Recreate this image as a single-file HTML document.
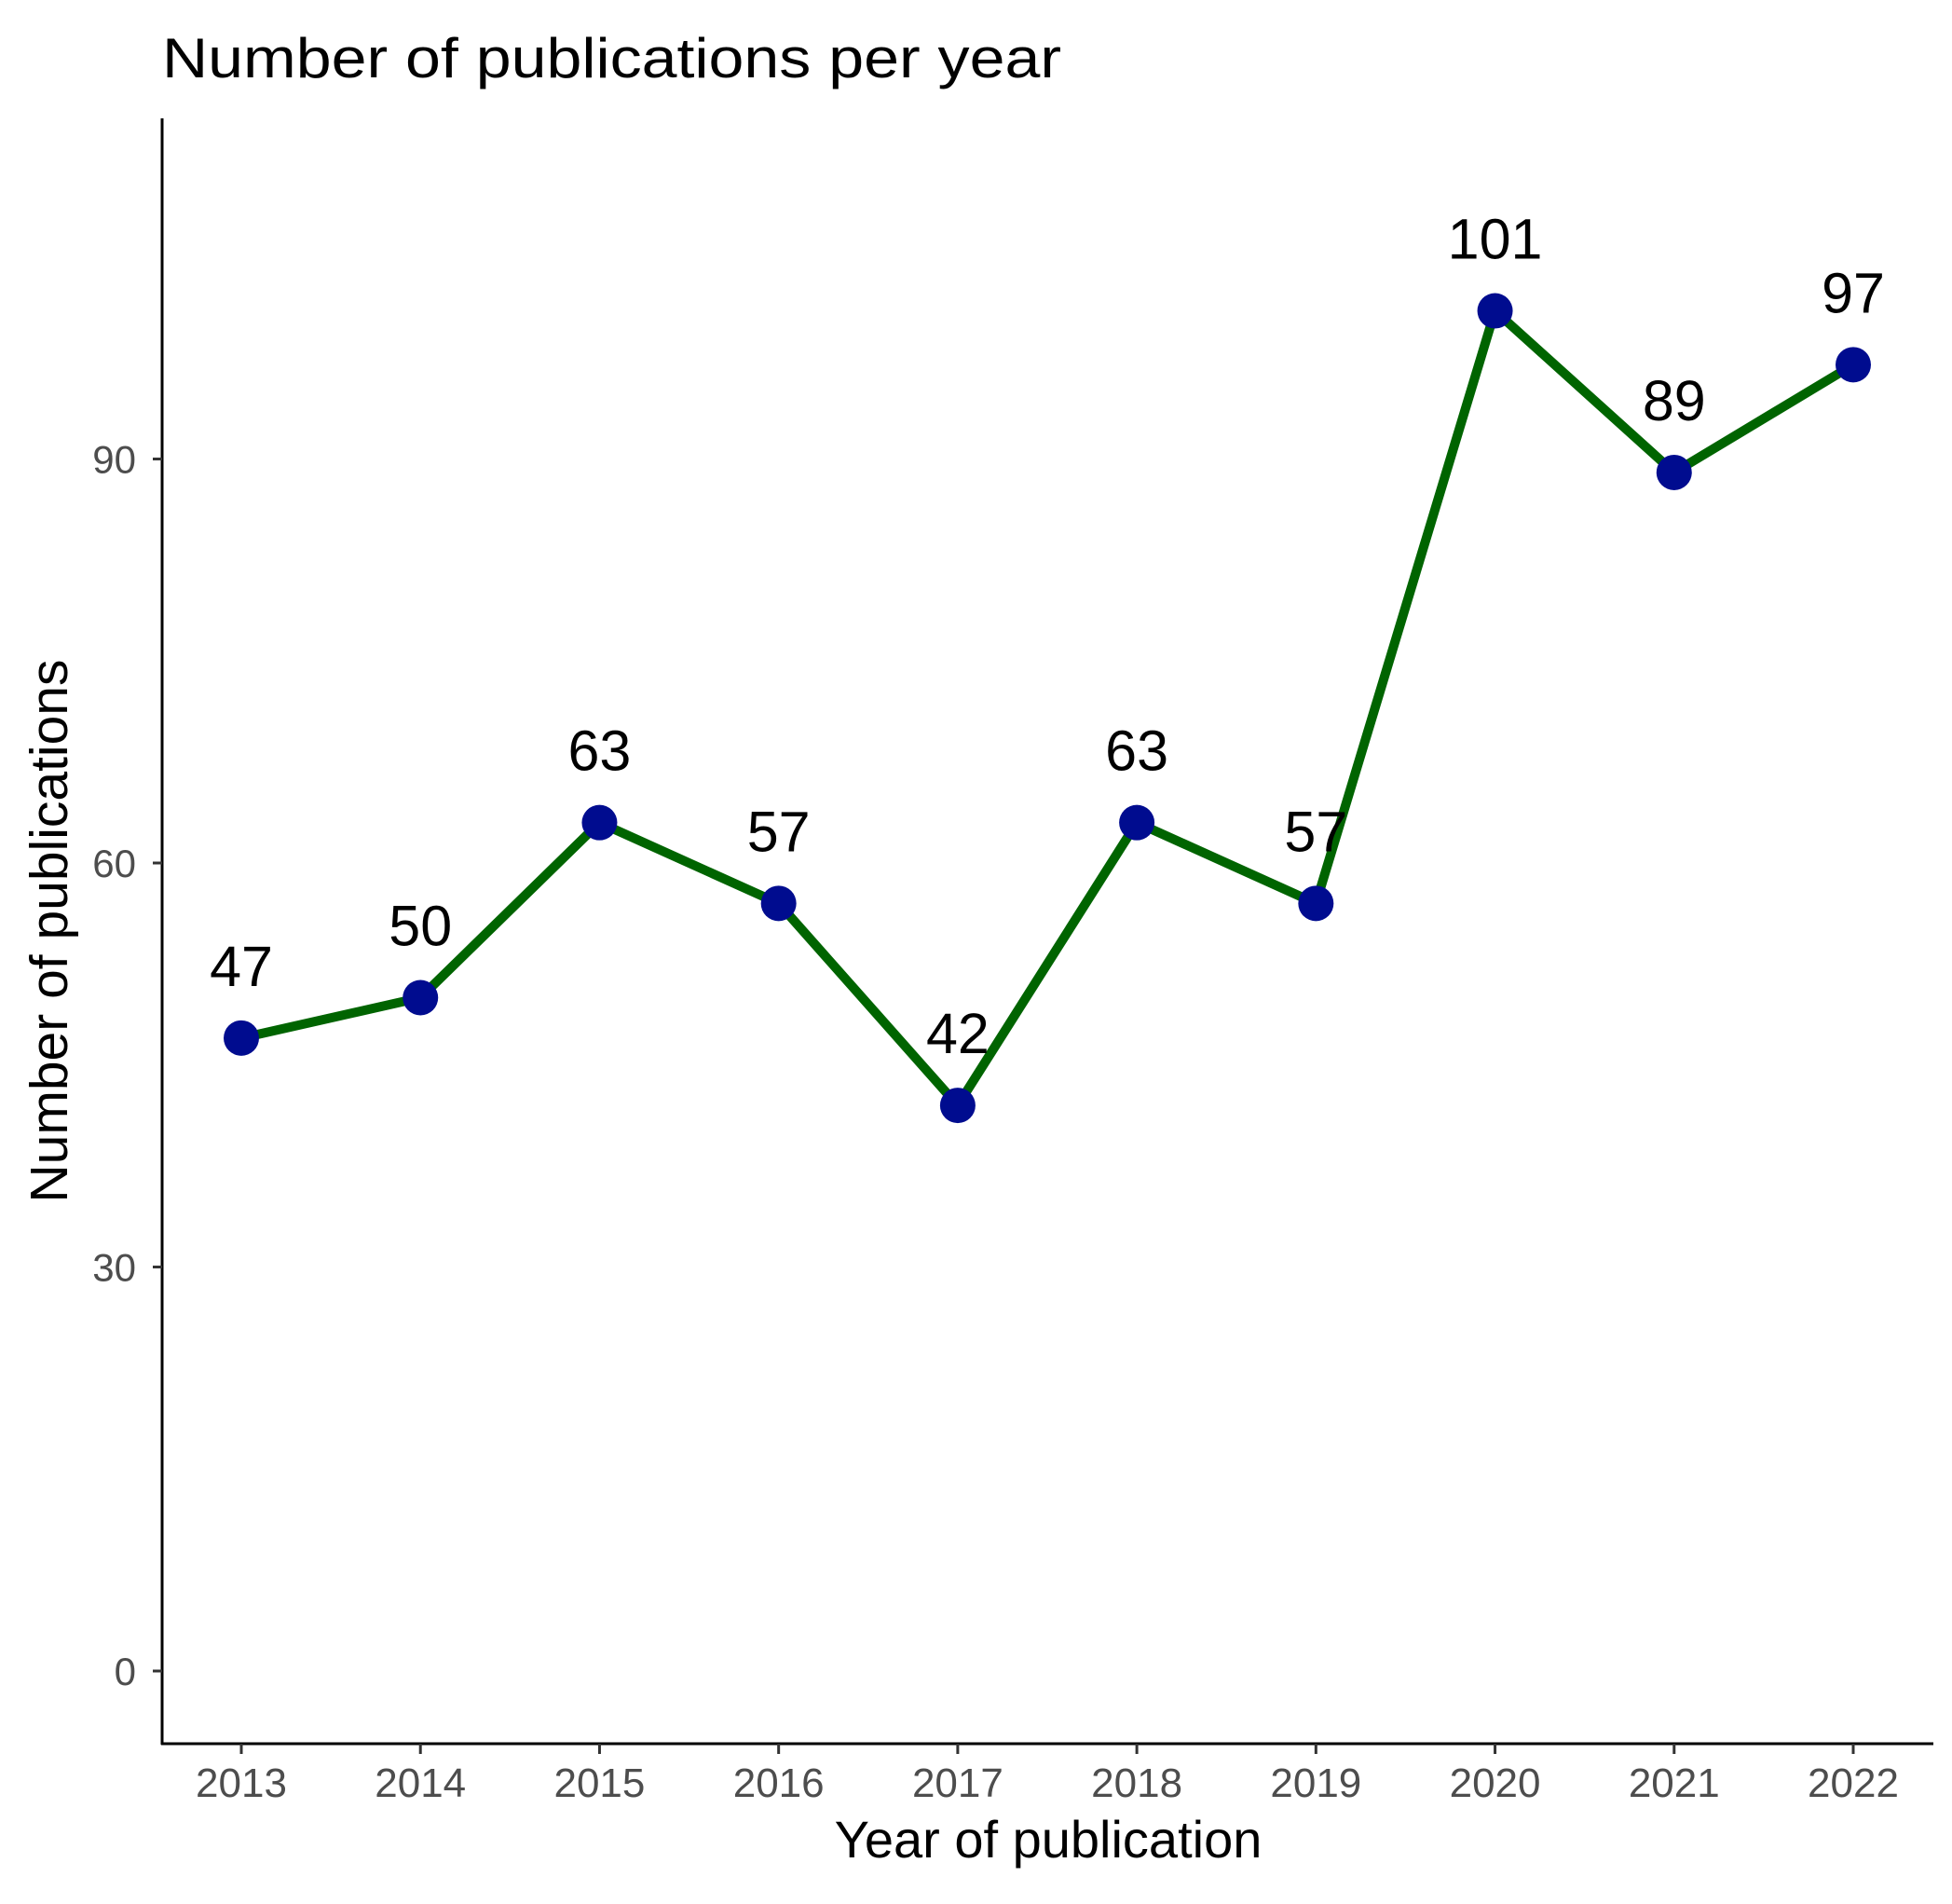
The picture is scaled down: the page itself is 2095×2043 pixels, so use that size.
<!DOCTYPE html>
<html><head><meta charset="utf-8"><style>
html,body{margin:0;padding:0;background:#fff}
svg{display:block;font-family:"Liberation Sans",Arial,sans-serif}
</style></head><body>
<svg id="chart" width="2095" height="2043" viewBox="0 0 2095 2043" xmlns="http://www.w3.org/2000/svg">
<text x="174" y="83" font-size="60" fill="#000" textLength="965" lengthAdjust="spacingAndGlyphs">Number of publications per year</text>
<g id="axes"></g>
<g id="marks"></g>
<text x="1125" y="1993" font-size="56" text-anchor="middle" fill="#000">Year of publication</text>
<text transform="translate(72,999) rotate(-90)" font-size="57" text-anchor="middle" fill="#000">Number of publications</text>
</svg>
<script>
const years = ["2013","2014","2015","2016","2017","2018","2019","2020","2021","2022"];
const counts = [47,50,63,57,42,63,57,101,89,97];
const yTicks = [0,30,60,90];

const NS = "http://www.w3.org/2000/svg";
const x0 = 259, xStep = (1989-259)/9;
function xPos(i){ return x0 + i*xStep; }
function yPos(v){ return 1793 - v*14.45; }
function mk(tag, attrs, parent){
  const e = document.createElementNS(NS, tag);
  for (const k in attrs) e.setAttribute(k, attrs[k]);
  parent.appendChild(e);
  return e;
}
const axes = document.getElementById('axes');
const marks = document.getElementById('marks');

let yl = mk('line',{x1:174,y1:127,x2:174,y2:1872,stroke:'#000','stroke-width':3},axes);


let xl = mk('line',{x1:173,y1:1871,x2:2075,y2:1871,stroke:'#000','stroke-width':3},axes);



yTicks.forEach(v=>{
  const y = yPos(v);
  const t = mk('line',{x1:164,y1:y,x2:174,y2:y,stroke:'#333','stroke-width':3},axes);
  
  
  const l = mk('text',{x:146,y:y+15,'font-size':42,'text-anchor':'end',fill:'#4d4d4d'},axes);
  l.textContent = v;
  
  
});
years.forEach((yr,i)=>{
  const x = xPos(i);
  const t = mk('line',{x1:x,y1:1871,x2:x,y2:1882,stroke:'#333','stroke-width':3},axes);
  
  
  const l = mk('text',{x:x,y:1928,'font-size':44,'text-anchor':'middle',fill:'#4d4d4d'},axes);
  l.textContent = yr;
  
  
});

const pts = counts.map((v,i)=>xPos(i)+','+yPos(v)).join(' ');
const line = mk('polyline',{points:pts,fill:'none',stroke:'#006400','stroke-width':10,'stroke-linejoin':'round'},marks);



counts.forEach((v,i)=>{
  const c = mk('circle',{cx:xPos(i),cy:yPos(v),r:19,fill:'#000c8f'},marks);
  
  
});
counts.forEach((v,i)=>{
  const t = mk('text',{x:xPos(i),y:yPos(v)-56,'font-size':61,'text-anchor':'middle',fill:'#000'},marks);
  t.textContent = v;
  
  
});
</script>
</body></html>
